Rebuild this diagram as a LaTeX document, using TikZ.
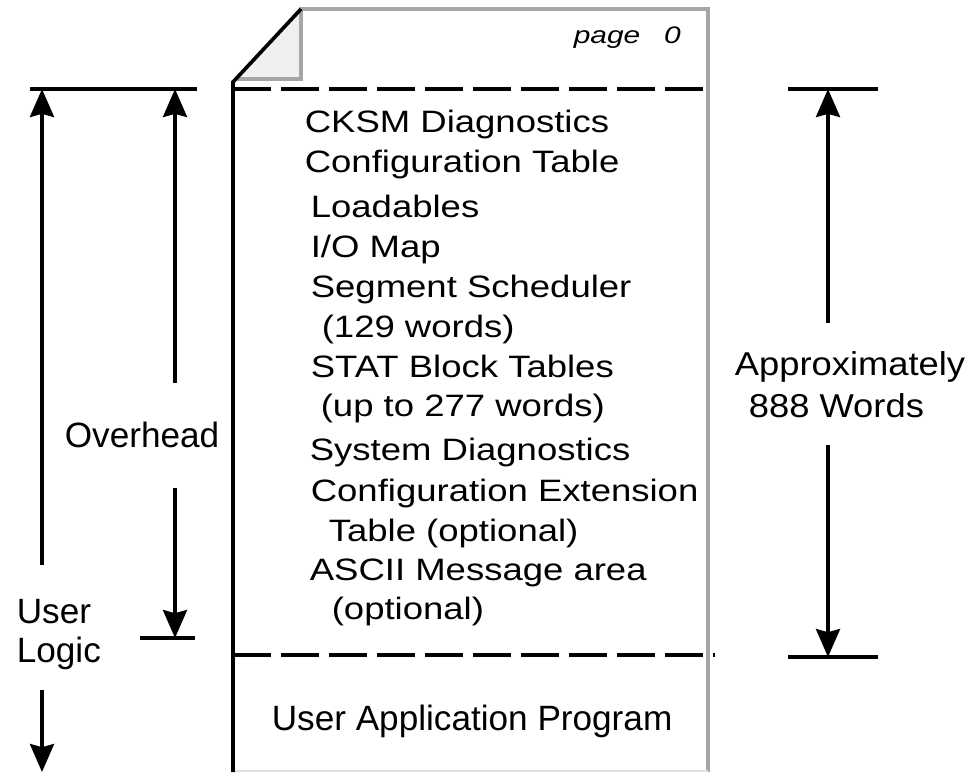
\documentclass[tikz,border=0pt]{standalone}
\usepackage{fontspec}
\setmainfont{Liberation Sans}
\newfontfamily\listfont[FakeStretch=1.18]{Liberation Sans}
\newfontfamily\widefont[FakeStretch=1.1]{Liberation Sans}
\newfontfamily\pagefont[FakeStretch=1.25]{Liberation Sans}
\usetikzlibrary{arrows.meta}

\begin{document}
\begin{tikzpicture}[x=0.025cm,y=-0.025cm,line width=2.6pt,
    dim/.style={-{Stealth[length=7mm,width=6mm,inset=0.8mm]}},
    entry/.style={anchor=base west,inner sep=0pt,font=\listfont\fontsize{22}{26}\selectfont},
    sidetext/.style={anchor=base west,inner sep=0pt,font=\fontsize{25}{30}\selectfont},
    pagedash/.style={dash pattern=on 0.95cm off 0.25cm}]
  \useasboundingbox (0,0) rectangle (970,772);

  % the page with its folded corner
  \fill[gray!12] (235,79) -- (301,10) -- (301,79) -- cycle;
  \draw[gray!70] (235,79) -- (301,79) -- (301,9) -- (708,9) -- (708,772);
  \draw[gray!25,line width=1pt] (233,771) -- (708,771);
  \draw (233,772) -- (233,82) -- (301,9);
  \node[anchor=base west,inner sep=0pt,font=\pagefont\itshape\fontsize{17}{20}\selectfont] (page) at (572,43) {page\quad 0};

  % limits of the overhead area
  \draw[pagedash] (233,89) -- (713,89);
  \draw[pagedash] (233,655) -- (715,655);
  \draw (30,89) -- (197,89);
  \draw (140,638) -- (195,638);
  \draw (788,89) -- (878,89);
  \draw (788,657) -- (878,657);

  % contents
  \node[entry] (cksm) at (303,132) {CKSM Diagnostics};
  \node[entry] (conftab) at (303,172) {Configuration Table};
  \node[entry] (loadables) at (309,217) {Loadables};
  \node[entry] (iomap) at (309,257) {I/O Map};
  \node[entry] (segsched) at (309,297) {Segment Scheduler};
  \node[entry] (segwords) at (320,337) {(129 words)};
  \node[entry] (stat) at (309,377) {STAT Block Tables};
  \node[entry] (statwords) at (319,416) {(up to 277 words)};
  \node[entry] (sysdiag) at (308,460) {System Diagnostics};
  \node[entry] (confext) at (309,501) {Configuration Extension};
  \node[entry] (confextopt) at (327,541) {Table (optional)};
  \node[entry] (ascii) at (308,580) {ASCII Message area};
  \node[entry] (asciiopt) at (330,619) {(optional)};
  \node[sidetext] (userapp) at (270,730) {User Application Program};

  % side labels
  \node[sidetext] (overhead) at (63,447) {Overhead};
  \node[sidetext] (user) at (15,623) {User};
  \node[sidetext] (logic) at (15,662) {Logic};
  \node[anchor=base west,inner sep=0pt,font=\widefont\fontsize{23.5}{28}\selectfont] (approx) at (733,375) {Approximately};
  \node[anchor=base west,inner sep=0pt,font=\widefont\fontsize{23.5}{28}\selectfont] (words) at (747,417) {888 Words};

  % dimension arrows
  \coordinate (ultop) at (42,89);
  \coordinate (ulup) at (42,565);
  \coordinate (uldown) at (42,690);
  \coordinate (ulbot) at (42,772);
  \coordinate (ovtop) at (175,89);
  \coordinate (ovup) at (175,383);
  \coordinate (ovdown) at (175,488);
  \coordinate (ovbot) at (175,638);
  \coordinate (aptop) at (828,89);
  \coordinate (apup) at (828,323);
  \coordinate (apdown) at (828,445);
  \coordinate (apbot) at (828,657);

  \draw[dim] (ulup) -- (ultop);
  \draw[dim] (uldown) -- (ulbot);
  \draw[dim] (ovup) -- (ovtop);
  \draw[dim] (ovdown) -- (ovbot);
  \draw[dim] (apup) -- (aptop);
  \draw[dim] (apdown) -- (apbot);
\end{tikzpicture}
\end{document}
